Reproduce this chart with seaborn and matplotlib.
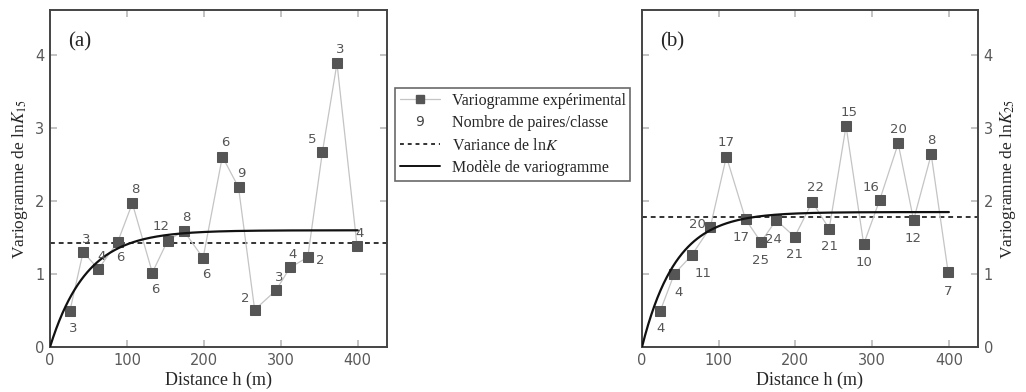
import numpy as np
import pandas as pd
import matplotlib
matplotlib.use("Agg")
import matplotlib.pyplot as plt
from matplotlib.lines import Line2D
from matplotlib.legend_handler import HandlerBase
from matplotlib.text import Text
import seaborn as sns

# Experimental variogram, panel (a): lag distance (m), semivariance, pair count
dist_a = [26, 43, 63, 88, 107, 133, 153, 174, 199, 224, 245, 266, 294, 312, 335, 354, 373, 399]
gamma_a = [0.50, 1.30, 1.07, 1.44, 1.97, 1.02, 1.46, 1.59, 1.22, 2.61, 2.19, 0.51, 0.78, 1.09, 1.23, 2.67, 3.89, 1.39]
pairs_a = [3, 3, 4, 6, 8, 6, 12, 8, 6, 6, 9, 2, 3, 4, 2, 5, 3, 4]
var_a = 1.43
sill_a, range_a = 1.60, 142.0

# Experimental variogram, panel (b)
dist_b = [24, 42, 65, 89, 110, 135, 155, 175, 199, 222, 244, 266, 289, 310, 334, 354, 377, 399]
gamma_b = [0.50, 1.00, 1.26, 1.64, 2.61, 1.75, 1.44, 1.74, 1.51, 1.99, 1.62, 3.03, 1.41, 2.02, 2.79, 1.74, 2.64, 1.03]
pairs_b = [4, 4, 11, 20, 17, 17, 25, 24, 21, 22, 21, 15, 10, 16, 20, 12, 8, 7]
var_b = 1.78
sill_b, range_b = 1.85, 133.0

# label placement for the pair counts: (dx, dy) offsets in points
offs_a = [(2, -13), (2, 9), (2, 9), (2, -11), (2, 10), (2, -12), (-5, 10), (2, 10), (2, -12),
          (2, 10), (2, 10), (-7, 8), (2, 9), (2, 9), (9, -2), (-7, 9), (2, 10), (2, 9)]
offs_b = [(0, -13), (3, -13), (8, -13), (-9, 2), (0, 10), (-3, -13), (0, -13), (-2, -14), (0, -13),
          (2, 10), (0, -13), (2, 10), (0, -13), (-6, 9), (0, 10), (0, -13), (0, 10), (0, -14)]

sns.set_theme(style="white")
plt.rcParams["font.family"] = ["DejaVu Sans"]
plt.rcParams["mathtext.fontset"] = "stix"

SERIF = "Liberation Serif"
MARK = "#555555"
LINE = "#c4c4c4"

fig = plt.figure(figsize=(10.26, 3.92), dpi=100)
ax_a = fig.add_axes([50 / 1026, 1 - 347 / 392, 337 / 1026, 337 / 392])
ax_b = fig.add_axes([642 / 1026, 1 - 347 / 392, 336 / 1026, 337 / 392])


def draw(ax, dist, gamma, pairs, var, sill, rng, offs, tag, ylabel, right):
    df = pd.DataFrame({"h": dist, "g": gamma})
    sns.lineplot(data=df, x="h", y="g", ax=ax, color=LINE, lw=0.9, marker="s",
                 markersize=6.6, markerfacecolor=MARK, markeredgecolor=MARK, zorder=3)
    ax.axhline(var, color="#333333", lw=1.4, ls=(0, (2.5, 2)), zorder=2)
    h = np.linspace(0, 400, 200)
    ax.plot(h, sill * (1 - np.exp(-3 * h / rng)), color="#111111", lw=1.6, zorder=4)
    for x, y, n, (dx, dy) in zip(dist, gamma, pairs, offs):
        ax.annotate(str(n), (x, y), xytext=(dx, dy), textcoords="offset points",
                    ha="center", va="center", fontsize=9.5, color="#555555", zorder=5)
    ax.set_xlim(0, 438)
    ax.set_ylim(0, 4.62)
    ax.set_xticks([0, 100, 200, 300, 400])
    ax.set_yticks([0, 1, 2, 3, 4])
    ax.tick_params(direction="in", length=5, color="#bbbbbb", labelsize=10.5,
                   labelcolor="#5a5a5a", top=True, bottom=True, left=True, right=True,
                   pad=4)
    if right:
        ax.tick_params(labelleft=False, labelright=True)
        ax.yaxis.set_label_position("right")
    for s in ax.spines.values():
        s.set_color("#444444")
        s.set_linewidth(1.4)
    ax.set_xlabel("Distance h (m)", family=SERIF, fontsize=13, labelpad=3)
    ax.set_ylabel(ylabel, family=SERIF, fontsize=12.5, labelpad=4, rotation=90)
    ax.text(0.055, 0.905, tag, transform=ax.transAxes, family=SERIF, fontsize=15,
            ha="left", va="center")


draw(ax_a, dist_a, gamma_a, pairs_a, var_a, sill_a, range_a, offs_a, "(a)",
     r"Variogramme de ln$K_{\mathit{15}}$", False)
draw(ax_b, dist_b, gamma_b, pairs_b, var_b, sill_b, range_b, offs_b, "(b)",
     r"Variogramme de ln$K_{\mathit{25}}$", True)


class TextHandle:
    def __init__(self, s):
        self.s = s


class HandlerText(HandlerBase):
    def create_artists(self, legend, orig_handle, xdescent, ydescent, width, height,
                       fontsize, trans):
        t = Text(width / 2 - xdescent, height / 2 - ydescent, orig_handle.s,
                 ha="center", va="center", fontsize=10, color="#444444",
                 family="DejaVu Sans")
        t.set_transform(trans)
        return [t]


handles = [
    Line2D([], [], color=LINE, lw=0.9, marker="s", markersize=6,
           markerfacecolor=MARK, markeredgecolor=MARK),
    TextHandle("9"),
    Line2D([], [], color="#333333", lw=1.4, ls=(0, (2, 2))),
    Line2D([], [], color="#111111", lw=1.4),
]
labels = ["Variogramme expérimental", "Nombre de paires/classe",
          r"Variance de ln$K$", "Modèle de variogramme"]
leg = fig.legend(handles, labels, loc="upper left",
                 bbox_to_anchor=(395 / 1026, 1 - 88 / 392),
                 handler_map={TextHandle: HandlerText()},
                 prop={"family": SERIF, "size": 11.5}, frameon=True, fancybox=False,
                 handlelength=2.5, borderpad=0.3, labelspacing=0.4, handletextpad=0.75,
                 borderaxespad=0)
leg.get_frame().set_edgecolor("#444444")
leg.get_frame().set_linewidth(1.2)

fig.savefig("out.png", dpi=100)
